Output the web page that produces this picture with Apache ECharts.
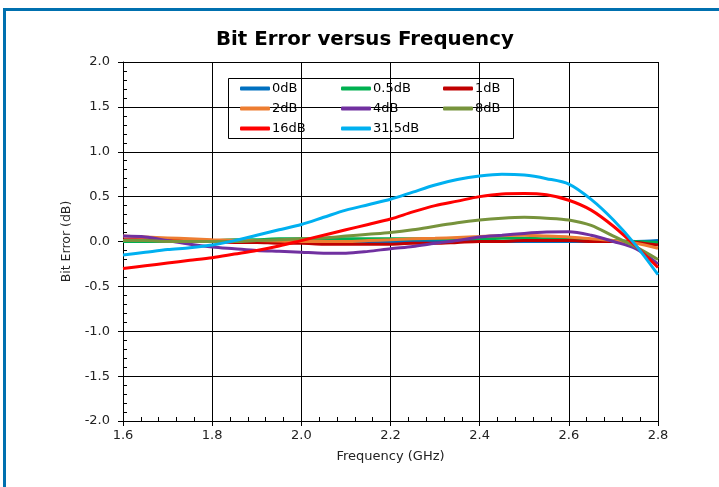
<!DOCTYPE html>
<html>
<head>
<meta charset="utf-8">
<script src="https://cdn.jsdelivr.net/npm/echarts@6/dist/echarts.min.js"></script>
<style>
  html, body { margin: 0; padding: 0; background: #fff; }
  #chart { width: 719px; height: 487px; }
</style>
</head>
<body>
<div id="chart"></div>
<script>
// Frequency sweep points (GHz)
const freq = [1.60, 1.65, 1.70, 1.75, 1.80, 1.85, 1.90, 1.95, 2.00, 2.05, 2.10, 2.15, 2.20,
              2.25, 2.30, 2.35, 2.40, 2.45, 2.50, 2.55, 2.60, 2.65, 2.70, 2.75, 2.80];

// Bit error (dB) per attenuation state
const err0dB   = [0.00, 0.00, 0.00, 0.00, 0.00, 0.00, 0.00, 0.00, 0.00, 0.00, 0.00, 0.00, 0.00,
                  0.00, 0.00, 0.00, 0.00, 0.00, 0.00, 0.00, 0.00, 0.00, 0.00, 0.00, 0.01];
const err0_5dB = [0.00, 0.00, 0.00, 0.01, 0.01, 0.02, 0.02, 0.03, 0.03, 0.03, 0.03, 0.03, 0.03,
                  0.03, 0.03, 0.03, 0.03, 0.035, 0.035, 0.03, 0.03, 0.02, 0.01, 0.00, -0.01];
const err1dB   = [0.02, 0.02, 0.01, 0.01, 0.00, -0.01, -0.01, -0.02, -0.02, -0.03, -0.03, -0.03, -0.03,
                  -0.02, -0.02, -0.01, 0.00, 0.00, 0.01, 0.01, 0.01, 0.00, 0.00, -0.01, -0.04];
const err2dB   = [0.06, 0.05, 0.04, 0.03, 0.02, 0.015, 0.01, 0.005, 0.00, 0.00, 0.00, 0.01, 0.02,
                  0.03, 0.035, 0.045, 0.055, 0.065, 0.07, 0.06, 0.05, 0.03, 0.01, -0.02, -0.075];
const err4dB   = [0.06, 0.05, 0.01, -0.03, -0.06, -0.08, -0.10, -0.11, -0.12, -0.13, -0.13, -0.11, -0.08,
                  -0.055, -0.02, 0.01, 0.05, 0.07, 0.09, 0.105, 0.11, 0.07, 0.00, -0.08, -0.25];
const err8dB   = [0.01, 0.01, 0.00, 0.00, 0.00, 0.00, 0.01, 0.02, 0.03, 0.04, 0.06, 0.08, 0.10,
                  0.13, 0.17, 0.21, 0.24, 0.26, 0.27, 0.26, 0.24, 0.18, 0.06, -0.06, -0.20];
const err16dB  = [-0.30, -0.27, -0.24, -0.21, -0.18, -0.14, -0.10, -0.05, 0.01, 0.07, 0.13, 0.19, 0.25,
                  0.33, 0.40, 0.45, 0.50, 0.53, 0.535, 0.52, 0.46, 0.35, 0.17, -0.05, -0.29];
const err31_5dB = [-0.15, -0.12, -0.09, -0.07, -0.04, 0.01, 0.07, 0.13, 0.19, 0.27, 0.35, 0.41, 0.47,
                   0.55, 0.63, 0.69, 0.73, 0.75, 0.74, 0.70, 0.64, 0.47, 0.24, -0.04, -0.37];

const seriesNames  = ['0dB', '0.5dB', '1dB', '2dB', '4dB', '8dB', '16dB', '31.5dB'];
const seriesValues = [err0dB, err0_5dB, err1dB, err2dB, err4dB, err8dB, err16dB, err31_5dB];
const seriesColors = ['#0070C0', '#00B050', '#C00000', '#ED7D31', '#7030A0', '#77933C', '#FF0000', '#00B0F0'];

const FONT = '"DejaVu Sans", Arial, sans-serif';
const frameColor = '#0070AF';

// legend grid: three columns, three rows
const legendCols = [240, 341, 443];
const legendRows = [82, 102, 122];

const chart = echarts.init(document.getElementById('chart'), null, { renderer: 'canvas' });

const series = seriesNames.map((name, i) => ({
  name,
  type: 'line',
  data: freq.map((f, k) => [f, seriesValues[i][k]]),
  smooth: 0.3,
  showSymbol: false,
  symbol: 'none',
  lineStyle: { width: 3, color: seriesColors[i] },
  itemStyle: { color: seriesColors[i] },
  emphasis: { disabled: true },
  animation: false,
  z: 3
}));

const legends = seriesNames.map((name, i) => ({
  data: [name],
  left: legendCols[i % 3],
  top: legendRows[Math.floor(i / 3)],
  icon: 'roundRect',
  itemWidth: 30,
  itemHeight: 4,
  padding: 0,
  selectedMode: false,
  textStyle: { fontFamily: FONT, fontSize: 13, color: '#000', padding: [0, 0, 0, -3] }
}));

chart.setOption({
  backgroundColor: '#fff',
  animation: false,
  title: {
    text: 'Bit Error versus Frequency',
    left: 211,
    top: 25,
    textStyle: { fontFamily: FONT, fontSize: 19.8, fontWeight: 'bold', color: '#000' }
  },
  grid: { left: 123, right: 61, top: 62, bottom: 66, containLabel: false },
  legend: legends,
  graphic: [
    // legend frame
    { type: 'rect', shape: { x: 228.5, y: 78.5, width: 285, height: 60 },
      style: { fill: 'rgba(0,0,0,0)', stroke: '#000', lineWidth: 1 }, z: 50 },
    // page frame
    { type: 'line', shape: { x1: 3, y1: 9.5, x2: 719, y2: 9.5 },
      style: { stroke: frameColor, lineWidth: 3 }, z: 60 },
    { type: 'line', shape: { x1: 4.5, y1: 8, x2: 4.5, y2: 487 },
      style: { stroke: frameColor, lineWidth: 3 }, z: 60 }
  ],
  xAxis: {
    type: 'value',
    min: 1.6,
    max: 2.8,
    interval: 0.2,
    name: 'Frequency (GHz)',
    nameLocation: 'middle',
    nameGap: 29,
    nameTextStyle: { fontFamily: FONT, fontSize: 13, color: '#222' },
    axisLine: { show: true, onZero: false, lineStyle: { color: '#000', width: 1 } },
    axisTick: { show: true, inside: false, length: 5, lineStyle: { color: '#000' } },
    minorTick: { show: true, splitNumber: 5, length: -4, lineStyle: { color: '#000' } },
    axisLabel: { fontFamily: FONT, fontSize: 13, color: '#222', margin: 8,
                 formatter: v => v.toFixed(1) },
    splitLine: { show: true, lineStyle: { color: '#000', width: 1 } },
    minorSplitLine: { show: false }
  },
  yAxis: {
    type: 'value',
    min: -2,
    max: 2,
    interval: 0.5,
    name: 'Bit Error (dB)',
    nameLocation: 'middle',
    nameGap: 43,
    nameTextStyle: { fontFamily: FONT, fontSize: 12.5, color: '#222' },
    axisLine: { show: true, onZero: false, lineStyle: { color: '#000', width: 1 } },
    axisTick: { show: true, inside: false, length: 5, lineStyle: { color: '#000' } },
    minorTick: { show: true, splitNumber: 5, length: -4, lineStyle: { color: '#000' } },
    axisLabel: { fontFamily: FONT, fontSize: 13, color: '#222', margin: 13,
                 formatter: v => v.toFixed(1) },
    splitLine: { show: true, lineStyle: { color: '#000', width: 1 } },
    minorSplitLine: { show: false }
  },
  series
});
</script>
</body>
</html>
